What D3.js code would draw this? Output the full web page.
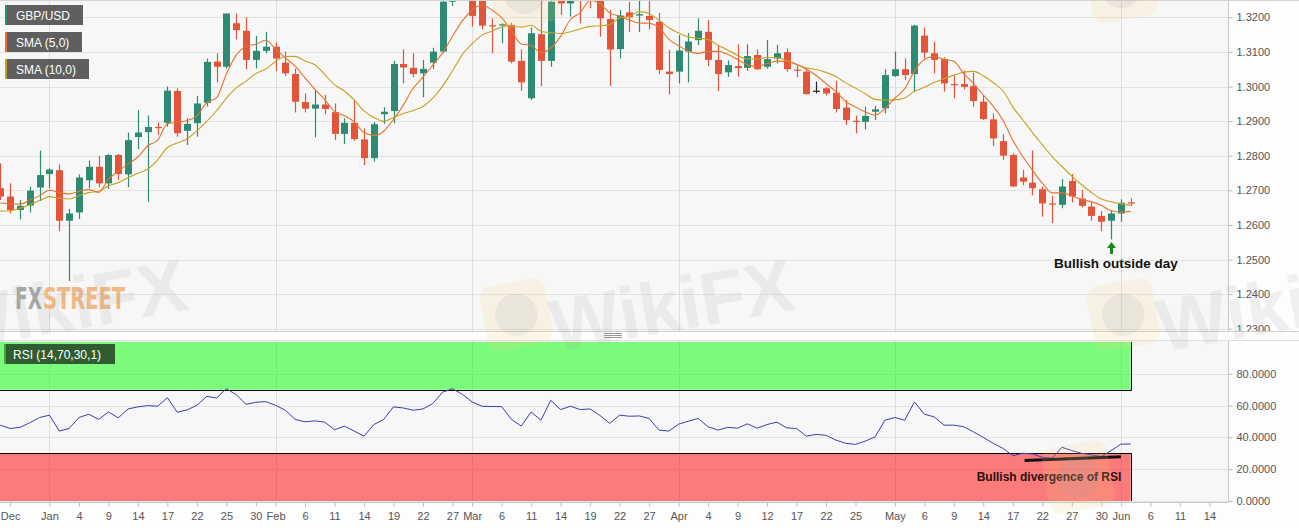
<!DOCTYPE html>
<html>
<head>
<meta charset="utf-8">
<script src="https://cdn.jsdelivr.net/npm/d3@7"></script>
<style>
  body { margin: 0; background: #fdfdfd; font-family: "Liberation Sans", Arial, sans-serif; }
  svg { display: block; }
  .axis text { fill: #555; font-size: 11px; font-family: "Liberation Sans", Arial, sans-serif; }
  .axis line { stroke: #bbb; }
  .axis path { display: none; }
</style>
</head>
<body>
<svg id="chart" width="1299" height="528"></svg>
<script>
// GBP/USD daily, first candle 2018-12-25, weekdays only
var opens = [1.2706,1.2682,1.2643,1.2656,1.2708,1.2747,1.2758,1.2612,1.2636,1.2729,
  1.2768,1.2720,1.2802,1.2746,1.2854,1.2868,1.2883,1.2895,1.2987,1.2872,
  1.2894,1.2953,1.3072,1.3057,1.3183,1.3161,1.3077,1.3103,1.3115,1.3069,
  1.3036,1.2955,1.2936,1.2948,1.2926,1.2863,1.2895,1.2847,1.2793,1.2920,
  1.2929,1.3065,1.3054,1.3038,1.3069,1.3101,1.3245,1.3290,1.3262,1.3255,
  1.3177,1.3176,1.3178,1.3074,1.2966,1.3151,1.3074,1.3250,1.3240,1.3262,
  1.3255,1.3255,1.3195,1.3108,1.3214,1.3205,1.3204,1.3187,1.3043,1.3043,
  1.3101,1.3134,1.3158,1.3077,1.3041,1.3059,1.3054,1.3091,1.3057,1.3081,
  1.3099,1.3049,1.3043,1.2988,1.2995,1.2982,1.2939,1.2901,1.2898,1.2927,
  1.2937,1.3030,1.3050,1.3036,1.3147,1.3096,1.3079,1.3007,1.3007,1.3001,
  1.2956,1.2905,1.2842,1.2802,1.2737,1.2722,1.2703,1.2662,1.2658,1.2727,
  1.2676,1.2653,1.2626,1.2612,1.2633,1.2665];
var highs = [1.2778,1.2720,1.2672,1.2711,1.2815,1.2764,1.2775,1.2646,1.2746,1.2786,
  1.2799,1.2805,1.2805,1.2867,1.2932,1.2916,1.2896,1.3000,1.2995,1.2908,
  1.2973,1.3081,1.3096,1.3211,1.3211,1.3200,1.3146,1.3158,1.3128,1.3101,
  1.3052,1.2980,1.2992,1.2976,1.2951,1.2908,1.2959,1.2879,1.2898,1.2940,
  1.3074,1.3107,1.3096,1.3077,1.3112,1.3262,1.3350,1.3310,1.3290,1.3270,
  1.3197,1.3183,1.3184,1.3107,1.3171,1.3290,1.3380,1.3290,1.3300,1.3290,
  1.3300,1.3280,1.3221,1.3221,1.3245,1.3250,1.3250,1.3213,1.3106,1.3149,
  1.3154,1.3197,1.3192,1.3120,1.3075,1.3122,1.3122,1.3107,1.3134,1.3120,
  1.3110,1.3060,1.3053,1.3014,1.2998,1.3016,1.2961,1.2916,1.2942,1.2944,
  1.3050,1.3101,1.3081,1.3178,1.3170,1.3130,1.3084,1.3033,1.3046,1.3040,
  1.2973,1.2922,1.2862,1.2807,1.2759,1.2815,1.2711,1.2684,1.2732,1.2747,
  1.2701,1.2667,1.2640,1.2641,1.2674,1.2677];
var lows = [1.2672,1.2633,1.2616,1.2636,1.2669,1.2706,1.2582,1.2438,1.2617,1.2706,
  1.2709,1.2704,1.2730,1.2709,1.2819,1.2667,1.2860,1.2884,1.2855,1.2831,
  1.2855,1.2942,1.3012,1.3052,1.3136,1.3050,1.3052,1.3096,1.3045,1.3030,
  1.2925,1.2925,1.2853,1.2920,1.2845,1.2834,1.2843,1.2773,1.2783,1.2892,
  1.2894,1.3009,1.3027,1.2969,1.3051,1.3096,1.3233,1.3250,1.3173,1.3165,
  1.3096,1.3125,1.3067,1.2988,1.2961,1.3001,1.3057,1.3207,1.3202,1.3183,
  1.3226,1.3144,1.3002,1.3081,1.3158,1.3158,1.3165,1.3036,1.2977,1.3009,
  1.3012,1.3120,1.3059,1.2987,1.3028,1.3028,1.3045,1.3048,1.3052,1.3067,
  1.3043,1.3027,1.2977,1.2980,1.2974,1.2925,1.2889,1.2865,1.2876,1.2903,
  1.2922,1.3028,1.3019,1.2985,1.3081,1.3038,1.2985,1.2966,1.2992,1.2942,
  1.2903,1.2828,1.2788,1.2709,1.2715,1.2686,1.2624,1.2605,1.2648,1.2665,
  1.2651,1.2612,1.2582,1.2558,1.2609,1.2655];
var closes = [1.2682,1.2643,1.2655,1.2699,1.2744,1.2760,1.2612,1.2633,1.2737,1.2768,
  1.2720,1.2802,1.2747,1.2845,1.2867,1.2883,1.2880,1.2988,1.2865,1.2892,
  1.2951,1.3071,1.3057,1.3211,1.3163,1.3077,1.3103,1.3115,1.3081,1.3038,
  1.2956,1.2936,1.2948,1.2935,1.2863,1.2895,1.2848,1.2793,1.2891,1.2927,
  1.3065,1.3055,1.3036,1.3051,1.3101,1.3245,1.3290,1.3262,1.3204,1.3176,
  1.3174,1.3180,1.3072,1.3012,1.3154,1.3074,1.3245,1.3240,1.3255,1.3255,
  1.3250,1.3197,1.3107,1.3205,1.3200,1.3209,1.3192,1.3048,1.3036,1.3104,
  1.3130,1.3161,1.3077,1.3036,1.3062,1.3053,1.3088,1.3050,1.3079,1.3096,
  1.3050,1.3046,1.2978,1.2988,1.2980,1.2935,1.2903,1.2898,1.2915,1.2934,
  1.3033,1.3050,1.3033,1.3176,1.3098,1.3077,1.3009,1.3004,1.2999,1.2958,
  1.2906,1.2850,1.2800,1.2711,1.2725,1.2706,1.2662,1.2659,1.2711,1.2682,
  1.2655,1.2626,1.2609,1.2633,1.2664,1.2663];
// closes of the 9 days before the first visible candle (for the moving averages)
var warmupCloses = [1.2630,1.2585,1.2590,1.2630,1.2645,1.2655,1.2660,1.2640,1.2680];

var rsiValues = [47.7,45.6,46.3,49.2,52.5,54.0,44.0,45.6,52.5,54.6,
  51.3,56.0,52.3,57.9,59.2,60.0,59.6,65.0,55.8,57.3,
  60.2,65.8,64.8,70.6,66.9,60.8,62.1,62.5,60.2,57.1,
  51.3,49.8,50.4,49.6,44.8,47.1,44.0,40.8,48.1,51.3,
  59.2,58.5,57.1,57.9,61.3,68.5,70.6,67.1,62.3,59.6,
  59.4,59.4,51.3,47.1,56.0,50.8,63.3,57.5,59.6,57.5,
  57.9,53.8,48.8,54.0,53.3,53.5,51.9,44.6,44.0,48.3,
  50.2,51.9,46.7,44.6,46.3,45.8,48.5,45.8,48.1,49.6,
  46.0,45.6,40.8,41.9,41.3,38.3,36.3,35.6,37.7,40.4,
  50.8,52.5,50.8,62.3,54.6,52.9,47.7,47.7,46.7,43.5,
  40.0,36.3,33.1,28.5,30.0,29.6,27.5,26.9,33.8,31.7,
  30.0,29.0,27.9,31.7,35.8,35.8];

var tickDays = [1,5,8,11,14,17,20,23,26,28,31,34,37,40,43,46,48,51,54,57,60,63,66,69,72,75,78,81,84,87,91,94,97,100,103,106,109,112,114,117,120,123];
var tickLabels = ["Dec","Jan","4","9","14","17","22","25","30","Feb","6","11","14","19","22","27","Mar","6","11","14","19","22","27","Apr","4","9","12","17","22","25","May","6","9","14","17","22","27","30","Jun","6","11","14"];
var monthDays = [5,28,48,69,91,114];
var priceTicks = [1.23,1.24,1.25,1.26,1.27,1.28,1.29,1.30,1.31,1.32];
var rsiTicks = [0,20,40,60,80];
var rsiDivergence = [[104.2,25.4],[114,27.8]];
var outsideDay = 113;

var svg = d3.select("#chart");
var plotRight = 1228;
var mainTop = 1, mainBottom = 331, rsiTop = 341, rsiBottom = 502;

var x = d3.scaleLinear().domain([0, closes.length - 1]).range([0.3, 1130.75]);
var yP = d3.scaleLinear().domain([1.23, 1.32]).range([328.7, 17.3]);
var yR = d3.scaleLinear().domain([0, 100]).range([501, 342]);

var defs = svg.append("defs");
defs.append("clipPath").attr("id", "clipMain").append("rect")
  .attr("x", 0).attr("y", mainTop).attr("width", plotRight).attr("height", mainBottom - mainTop);
defs.append("clipPath").attr("id", "clipMainAxis").append("rect")
  .attr("x", plotRight).attr("y", mainTop).attr("width", 80).attr("height", mainBottom - mainTop);
defs.append("clipPath").attr("id", "clipRsi").append("rect")
  .attr("x", 0).attr("y", rsiTop).attr("width", plotRight).attr("height", rsiBottom - rsiTop);

// backgrounds
svg.append("rect").attr("x", 0).attr("y", mainTop).attr("width", plotRight).attr("height", mainBottom - mainTop).attr("fill", "#f7f7f7");
svg.append("rect").attr("x", 0).attr("y", rsiTop).attr("width", plotRight).attr("height", rsiBottom - rsiTop).attr("fill", "#f7f7f7");
svg.append("line").attr("x1", 0).attr("x2", 1299).attr("y1", 0.5).attr("y2", 0.5).attr("stroke", "#d4d4d4");
svg.append("line").attr("x1", 0).attr("x2", 1299).attr("y1", mainBottom + 0.5).attr("y2", mainBottom + 0.5).attr("stroke", "#d0d0d0");
svg.append("line").attr("x1", 0).attr("x2", 1299).attr("y1", rsiTop - 0.5).attr("y2", rsiTop - 0.5).attr("stroke", "#e0e0e0");
// drag handle
[333, 335, 337].forEach(function(yy){
  svg.append("line").attr("x1", 604).attr("x2", 622).attr("y1", yy + 0.5).attr("y2", yy + 0.5).attr("stroke", "#999");
});

// ---------- main panel ----------
var main = svg.append("g").attr("clip-path", "url(#clipMain)");
main.selectAll(".hgrid").data(priceTicks).enter().append("line")
  .attr("x1", 0).attr("x2", plotRight)
  .attr("y1", function(d){ return Math.round(yP(d)) + 0.5; })
  .attr("y2", function(d){ return Math.round(yP(d)) + 0.5; })
  .attr("stroke", "#e3e3e3");
main.selectAll(".vgrid").data(monthDays).enter().append("line")
  .attr("x1", function(d){ return Math.round(x(d)) + 0.5; })
  .attr("x2", function(d){ return Math.round(x(d)) + 0.5; })
  .attr("y1", mainTop).attr("y2", mainBottom)
  .attr("stroke", "#dedede");

// FXStreet logo (sits under the candles)
var fx = main.append("g").attr("opacity", 0.75).attr("font-family", "'DejaVu Sans Condensed', 'DejaVu Sans', sans-serif").attr("font-weight", "bold").attr("font-size", 30);
fx.append("text").attr("x", 15).attr("y", 309).attr("textLength", 27).attr("lengthAdjust", "spacingAndGlyphs").attr("fill", "#8e8e8e").text("FX");
fx.append("text").attr("x", 43).attr("y", 309).attr("textLength", 82).attr("lengthAdjust", "spacingAndGlyphs").attr("fill", "#f2a55c").text("STREET");

var upCol = "#2e8a72", downCol = "#e2553b";
function candleCol(i){
  if (opens[i] === closes[i]) return "#222";
  return closes[i] > opens[i] ? upCol : downCol;
}
var idx = d3.range(closes.length);
var candles = main.selectAll(".candle").data(idx).enter().append("g");
candles.append("line")
  .attr("x1", function(i){ return Math.round(x(i)) + 0.5; })
  .attr("x2", function(i){ return Math.round(x(i)) + 0.5; })
  .attr("y1", function(i){ return yP(highs[i]); })
  .attr("y2", function(i){ return yP(lows[i]); })
  .attr("stroke", candleCol).attr("stroke-width", 1.2);
candles.append("rect")
  .attr("x", function(i){ return Math.round(x(i)) - 3; })
  .attr("width", 7)
  .attr("y", function(i){ return yP(Math.max(opens[i], closes[i])); })
  .attr("height", function(i){ return Math.max(1.2, Math.abs(yP(opens[i]) - yP(closes[i]))); })
  .attr("fill", candleCol);

function sma(n){
  var all = warmupCloses.concat(closes);
  var off = warmupCloses.length;
  return closes.map(function(c, i){
    return d3.mean(all.slice(i + off - n + 1, i + off + 1));
  });
}
var lineP = d3.line().x(function(d, i){ return x(i); }).y(function(d){ return yP(d); }).curve(d3.curveMonotoneX);
main.append("path").datum(sma(10)).attr("d", lineP).attr("fill", "none").attr("stroke", "#c5a21e").attr("stroke-width", 1.1);
main.append("path").datum(sma(5)).attr("d", lineP).attr("fill", "none").attr("stroke", "#e8722a").attr("stroke-width", 1.1);

// annotation: bullish outside day
var ax = Math.round(x(outsideDay)) + 0.5;
main.append("path")
  .attr("d", "M" + ax + ",242 L" + (ax + 4.5) + ",248 L" + (ax + 1.5) + ",248 L" + (ax + 1.5) + ",254 L" + (ax - 1.5) + ",254 L" + (ax - 1.5) + ",248 L" + (ax - 4.5) + ",248 Z")
  .attr("fill", "#168a16");
main.append("text").attr("x", 1116).attr("y", 268).attr("text-anchor", "middle")
  .attr("font-size", 13.5).attr("font-weight", "bold").attr("fill", "#111")
  .text("Bullish outside day");

// price axis
svg.append("line").attr("x1", plotRight + 0.5).attr("x2", plotRight + 0.5).attr("y1", mainTop).attr("y2", mainBottom).attr("stroke", "#c8c8c8");
svg.append("g").attr("clip-path", "url(#clipMainAxis)")
  .append("g").attr("class", "axis")
  .attr("transform", "translate(" + (plotRight + 0.5) + ",0)")
  .call(d3.axisRight(yP).tickValues(priceTicks).tickFormat(d3.format(".4f")).tickSize(4).tickPadding(4));

// legends
function legendBox(y0, w, label, stripe, bg){
  svg.append("rect").attr("x", 5).attr("y", y0).attr("width", w).attr("height", 20).attr("fill", bg);
  svg.append("rect").attr("x", 5).attr("y", y0).attr("width", 2).attr("height", 20).attr("fill", stripe);
  svg.append("text").attr("x", 16).attr("y", y0 + 14.5).attr("fill", "#fff").attr("font-size", 12).text(label);
}
legendBox(5, 78, "GBP/USD", upCol, "#5f5f5f");
legendBox(32, 77, "SMA (5,0)", "#e8722a", "#5f5f5f");
legendBox(59, 84, "SMA (10,0)", "#c5a21e", "#5f5f5f");

// ---------- RSI panel ----------
var rsi = svg.append("g").attr("clip-path", "url(#clipRsi)");
rsi.selectAll(".hgrid").data(rsiTicks).enter().append("line")
  .attr("x1", 0).attr("x2", plotRight)
  .attr("y1", function(d){ return Math.round(yR(d)) + 0.5; })
  .attr("y2", function(d){ return Math.round(yR(d)) + 0.5; })
  .attr("stroke", "#e3e3e3");
rsi.selectAll(".vgrid").data(monthDays).enter().append("line")
  .attr("x1", function(d){ return Math.round(x(d)) + 0.5; })
  .attr("x2", function(d){ return Math.round(x(d)) + 0.5; })
  .attr("y1", rsiTop).attr("y2", rsiBottom)
  .attr("stroke", "#dedede");

var bandRight = x(closes.length - 1);
rsi.append("rect").attr("x", 0).attr("y", yR(100)).attr("width", bandRight).attr("height", yR(70) - yR(100))
  .attr("fill", "rgb(0,255,0)").attr("fill-opacity", 0.5);
rsi.append("rect").attr("x", 0).attr("y", yR(30)).attr("width", bandRight).attr("height", yR(0) - yR(30))
  .attr("fill", "rgb(255,0,0)").attr("fill-opacity", 0.5);
rsi.append("path")
  .attr("d", "M0," + (Math.round(yR(70)) + 0.5) + "H" + (Math.round(bandRight) + 0.5) + "V" + yR(100) +
             "M0," + (Math.round(yR(30)) + 0.5) + "H" + (Math.round(bandRight) + 0.5) + "V" + yR(0))
  .attr("fill", "none").attr("stroke", "#000").attr("stroke-width", 1);

var lineR = d3.line().x(function(d, i){ return x(i); }).y(function(d){ return yR(d); });
rsi.append("path").datum(rsiValues).attr("d", lineR).attr("fill", "none").attr("stroke", "#3a3db4").attr("stroke-width", 1);

rsi.append("line")
  .attr("x1", x(rsiDivergence[0][0])).attr("y1", yR(rsiDivergence[0][1]))
  .attr("x2", x(rsiDivergence[1][0])).attr("y2", yR(rsiDivergence[1][1]))
  .attr("stroke", "#111").attr("stroke-width", 3);
rsi.append("text").attr("x", 1049).attr("y", 481).attr("text-anchor", "middle")
  .attr("font-size", 12).attr("font-weight", "bold").attr("fill", "#2a1010")
  .text("Bullish divergence of RSI");

svg.append("rect").attr("x", 4).attr("y", 344).attr("width", 111).attr("height", 20).attr("fill", "#2f5d2f");
svg.append("rect").attr("x", 4).attr("y", 344).attr("width", 2).attr("height", 20).attr("fill", "#3fa83f");
svg.append("text").attr("x", 13).attr("y", 358.5).attr("fill", "#fff").attr("font-size", 12).text("RSI (14,70,30,1)");

svg.append("line").attr("x1", plotRight + 0.5).attr("x2", plotRight + 0.5).attr("y1", rsiTop).attr("y2", rsiBottom).attr("stroke", "#c8c8c8");
svg.append("g").attr("class", "axis")
  .attr("transform", "translate(" + (plotRight + 0.5) + ",0)")
  .call(d3.axisRight(yR).tickValues(rsiTicks).tickFormat(d3.format(".4f")).tickSize(4).tickPadding(4));

// time axis
svg.append("line").attr("x1", 0).attr("x2", plotRight).attr("y1", rsiBottom + 0.5).attr("y2", rsiBottom + 0.5).attr("stroke", "#c8c8c8");
svg.append("g").attr("class", "axis")
  .attr("transform", "translate(0," + (rsiBottom + 0.5) + ")")
  .call(d3.axisBottom(x).tickValues(tickDays).tickFormat(function(d, i){ return tickLabels[i]; }).tickSize(4).tickPadding(6));

// ---------- watermark overlay (drawn as faint shapes) ----------
var wm = svg.append("g").attr("pointer-events", "none");
function wmLogo(x0, y0, s){
  var g = wm.append("g").attr("transform", "translate(" + x0 + "," + y0 + ") rotate(-10)");
  g.append("rect").attr("width", s).attr("height", s).attr("rx", s * 0.18).attr("fill", "#f0d27a").attr("opacity", 0.16);
  g.append("circle").attr("cx", s / 2).attr("cy", s / 2).attr("r", s * 0.32).attr("fill", "#9a9a9a").attr("opacity", 0.13);
}
function wmText(x0, y0){
  wm.append("text").attr("transform", "translate(" + x0 + "," + y0 + ") rotate(-10)")
    .attr("font-size", 74).attr("font-weight", "bold").attr("fill", "#9a9a9a").attr("opacity", 0.13)
    .text("WikiFX");
}
wmText(-52, 352);
wmLogo(478, 288, 66); wmText(555, 352);
wmLogo(1085, 288, 66); wmText(1162, 352);
wmLogo(486, -34, 66); wmLogo(1083, -40, 66);
wmLogo(1040, 450, 66);
</script>
</body>
</html>
